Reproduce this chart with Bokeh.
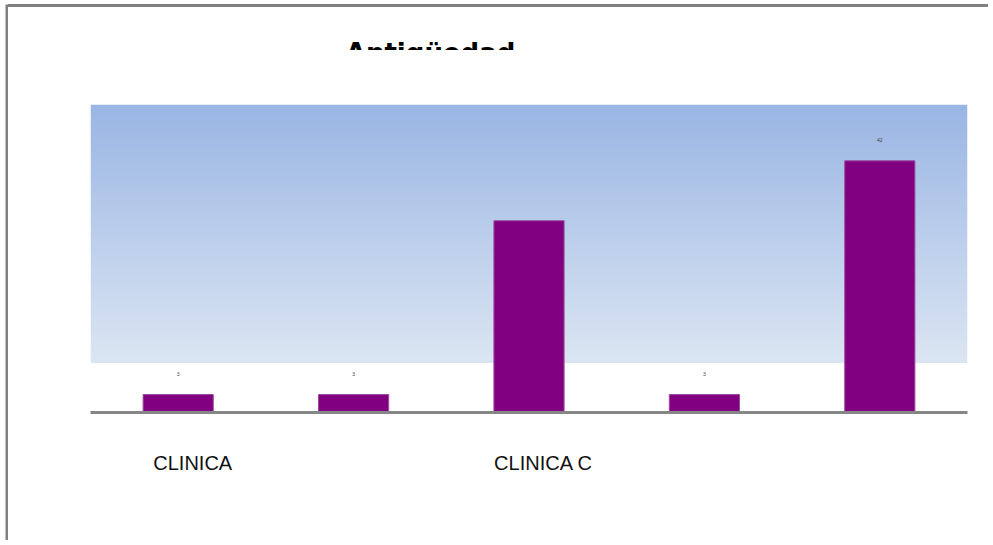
import numpy as np
from bokeh.plotting import figure
from bokeh.models import (Range1d, FactorRange, LabelSet, ColumnDataSource, Label,
                          CustomJSTickFormatter, LinearAxis, FixedTicker, Div)
from bokeh.layouts import column, row
from bokeh.embed import file_html
from bokeh.resources import INLINE

# ---- data ----
title_text = "Antigüedad"
categories = ["CLINICA", "CLINICA B", "CLINICA C", "CLINICA D", "CLINICA E"]
tick_labels = ["CLINICA", "", "CLINICA C", "", ""]
values = [3, 3, 32, 3, 42]
value_labels = ["3", "3", "", "3", "42"]

# ---- layout constants ----
W = 980
LINE_H = 3
TOP_H = 43
LOW_H = 490
Y_MAX = 51.4
GRAD_BOTTOM = 8.25
LABEL_SHIFT = 0.083   # tick labels sit a bit right of the bar centres
FRAME_GRAY = "#808080"

# ---- frame lines (left and top edge of the chart box) ----
strip = figure(width=3, height=LINE_H + TOP_H + LOW_H, x_axis_type=None, y_axis_type=None,
               toolbar_location=None, output_backend="svg", min_border=0,
               outline_line_color=None, background_fill_color=FRAME_GRAY,
               border_fill_color=FRAME_GRAY)
strip.grid.visible = False
topline = Div(text="", width=W, height=LINE_H,
              styles={"background-color": FRAME_GRAY, "margin": "0", "padding": "0"})

# ---- title strip (clipped title, as in the reference) ----
t = figure(width=W, height=TOP_H, x_range=Range1d(0, W), y_range=Range1d(0, TOP_H),
           x_axis_type=None, y_axis_type=None, toolbar_location=None,
           output_backend="svg", min_border=0, border_fill_color="white",
           background_fill_color="white", outline_line_color=None)
t.grid.visible = False
t.add_layout(Label(x=380, y=-2, text=title_text, text_font="DejaVu Sans",
                   text_font_size="26px", text_font_style="bold", text_color="#000000",
                   text_align="center", text_baseline="alphabetic"))

# ---- main chart ----
p = figure(width=W, height=LOW_H, x_range=FactorRange(*categories),
           y_range=Range1d(0, Y_MAX), x_axis_type=None, y_axis_type=None,
           toolbar_location=None, output_backend="svg",
           min_border_left=82, min_border_right=21, min_border_top=54,
           min_border_bottom=128, outline_line_color=None)
p.grid.visible = False
p.background_fill_color = "white"
p.border_fill_color = "white"

# gradient plot-area background (decoration)
n = 256
frac = np.linspace(0.0, 1.0, n)[:, None]
bottom_rgb = np.array([220, 230, 243])
top_rgb = np.array([154, 182, 228])
rgb = (bottom_rgb + (top_rgb - bottom_rgb) * frac).astype(np.uint8)
img = np.empty((n, 1), dtype=np.uint32)
view = img.view(dtype=np.uint8).reshape((n, 1, 4))
view[:, 0, 0] = rgb[:, 0]
view[:, 0, 1] = rgb[:, 1]
view[:, 0, 2] = rgb[:, 2]
view[:, 0, 3] = 255
p.image_rgba(image=[img], x=0, y=GRAD_BOTTOM, dw=len(categories), dh=Y_MAX - GRAD_BOTTOM)

src = ColumnDataSource(dict(cat=categories, val=values, lab=value_labels))
p.vbar(x="cat", top="val", width=0.4, source=src, fill_color="#800080",
       line_color="#9B4B9B", line_width=1)

p.add_layout(LabelSet(x="cat", y="val", text="lab", source=src, y_offset=19,
                      text_font_size="5px", text_align="center",
                      text_baseline="bottom", text_color="#444444"))

ax = LinearAxis(
    ticker=FixedTicker(ticks=[i + 0.5 + LABEL_SHIFT for i in range(len(categories))],
                       minor_ticks=[]),
    formatter=CustomJSTickFormatter(
        args=dict(labs=tick_labels, s=LABEL_SHIFT),
        code="const i = Math.round(tick - 0.5 - s); const v = labs[i]; return v === undefined ? '' : v;"))
ax.axis_line_color = "#868686"
ax.axis_line_width = 3
ax.major_tick_line_color = None
ax.minor_tick_line_color = None
ax.major_label_text_font = "Liberation Sans"
ax.major_label_text_font_size = "20px"
ax.major_label_text_color = "#111111"
ax.major_label_standoff = 33
p.add_layout(ax, "below")

layout = row(strip, column(topline, t, p, spacing=0), spacing=0,
             styles={"margin-left": "5px", "margin-top": "4px"})

open("out.html", "w").write(file_html(layout, INLINE))
